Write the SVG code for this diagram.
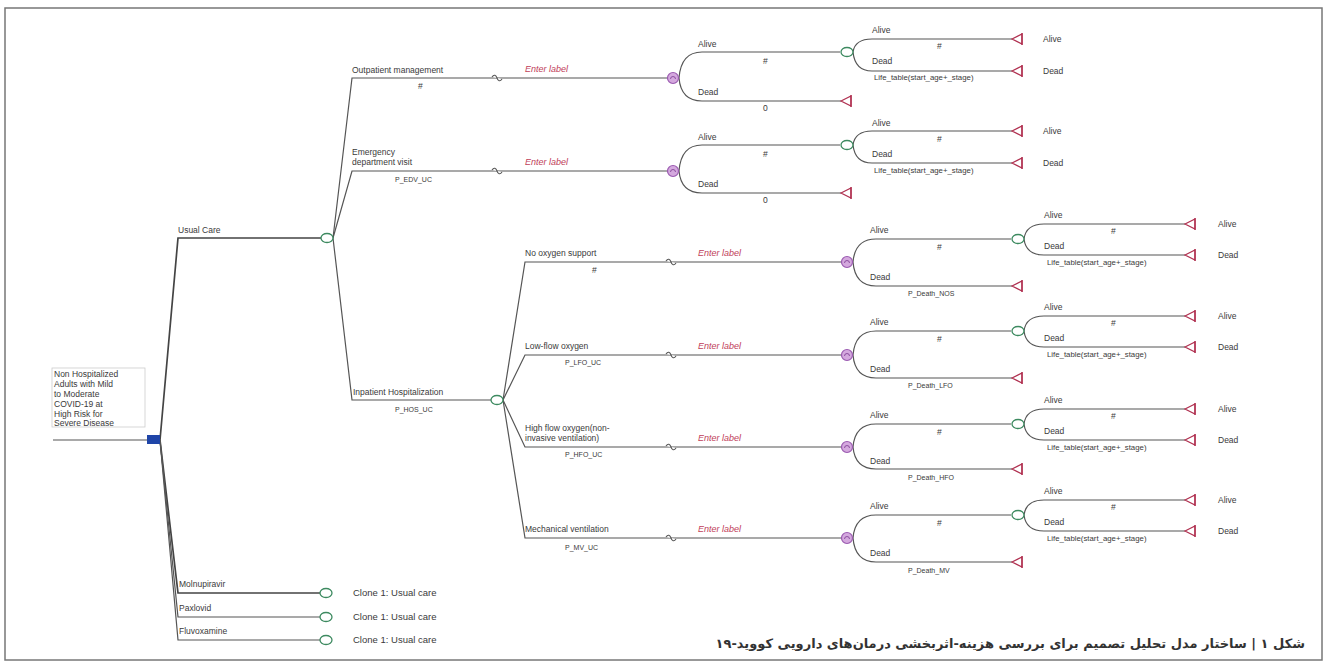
<svg xmlns="http://www.w3.org/2000/svg" width="1327" height="668" viewBox="0 0 1327 668">
<style>
text{font-family:"Liberation Sans",Arial,sans-serif;fill:#3a3a3a;font-size:8.5px}
.sm{font-size:7px}
.lt{font-size:7.8px}
.cl{font-size:9.5px}
.red{fill:#c0405a;font-style:italic;font-size:9px}
.ln{fill:none;stroke:#555;stroke-width:1.2}
.bold{stroke-width:1.7;stroke:#444}
.cap{font-family:"DejaVu Sans",sans-serif;font-weight:bold;font-size:13px;fill:#333}
</style>
<defs>
<g id="chance"><ellipse cx="0" cy="0" rx="6" ry="4.5" fill="#fff" stroke="#3d8a60" stroke-width="1.3"/></g>
<g id="markov"><circle cx="0" cy="0" r="5.5" fill="#d4a8de" stroke="#9a5ab0" stroke-width="1.2"/><path d="M-2.5,1 A2.5,2.5 0 1 1 2.5,1" fill="none" stroke="#7a3a90" stroke-width="0.8"/></g>
<g id="term"><path d="M-6,0 L4,-5 L4,5 Z" fill="#fff" stroke="#b03050" stroke-width="1.2"/><path d="M4,-6 V6" stroke="#b03050" stroke-width="1.4"/></g>
<g id="tilde"><path d="M-5,-1 C-3,-4 -1,-3 0,0 C1,3 3,4 5,1" fill="#fff" stroke="#555" stroke-width="1.1"/></g>
</defs>
<rect x="5" y="8" width="1317" height="652" fill="#fff" stroke="#777" stroke-width="1.5"/>

<g id="connectors">
<path class="ln" d="M53,440 H147"/>
<path class="ln bold" d="M160,440 L178,238 H321"/>
<path class="ln bold" d="M160,440 L178,593 H320"/>
<path class="ln" d="M160,440 L178,617 H320"/>
<path class="ln" d="M160,440 L178,640 H320"/>
<path class="ln" d="M333,238 L352,78 H667"/>
<path class="ln" d="M333,238 L352,171 H667"/>
<path class="ln" d="M333,238 L352,400 H491"/>
<path class="ln" d="M503,400 L525,262 H841"/>
<path class="ln" d="M503,400 L525,355 H841"/>
<path class="ln" d="M503,400 L525,447 H841"/>
<path class="ln" d="M503,400 L525,538 H841"/>
<path class="ln" d="M679,78 Q681,52 702,52 H840"/>
<path class="ln" d="M679,78 Q681,101 702,101 H841"/>
<path class="ln" d="M853,52 Q855,39 872,39 H1012"/>
<path class="ln" d="M853,52 Q855,71 872,71 H1012"/>
<path class="ln" d="M679,171 Q681,145 702,145 H840"/>
<path class="ln" d="M679,171 Q681,193 702,193 H841"/>
<path class="ln" d="M853,145 Q855,131 872,131 H1012"/>
<path class="ln" d="M853,145 Q855,163 872,163 H1012"/>
<path class="ln" d="M853,262 Q855,239 876,239 H1011"/>
<path class="ln" d="M853,262 Q855,286 876,286 H1012"/>
<path class="ln" d="M1024,239 Q1026,224 1044,224 H1185"/>
<path class="ln" d="M1024,239 Q1026,255 1044,255 H1185"/>
<path class="ln" d="M853,355 Q855,331 876,331 H1011"/>
<path class="ln" d="M853,355 Q855,378 876,378 H1012"/>
<path class="ln" d="M1024,331 Q1026,316 1044,316 H1185"/>
<path class="ln" d="M1024,331 Q1026,347 1044,347 H1185"/>
<path class="ln" d="M853,447 Q855,424 876,424 H1011"/>
<path class="ln" d="M853,447 Q855,469 876,469 H1012"/>
<path class="ln" d="M1024,424 Q1026,409 1044,409 H1185"/>
<path class="ln" d="M1024,424 Q1026,440 1044,440 H1185"/>
<path class="ln" d="M853,538 Q855,515 876,515 H1011"/>
<path class="ln" d="M853,538 Q855,562 876,562 H1012"/>
<path class="ln" d="M1024,515 Q1026,500 1044,500 H1185"/>
<path class="ln" d="M1024,515 Q1026,531 1044,531 H1185"/>
<use href="#tilde" x="497" y="78"/>
<use href="#tilde" x="497" y="171"/>
<use href="#tilde" x="671" y="262"/>
<use href="#tilde" x="671" y="355"/>
<use href="#tilde" x="671" y="447"/>
<use href="#tilde" x="671" y="538"/>
</g>

<g id="root">
<rect x="52" y="368" width="93" height="59" fill="#fff" stroke="#ccc" stroke-width="0.8"/>
<text x="54" y="377">Non Hospitalized</text>
<text x="54" y="387">Adults with Mild</text>
<text x="54" y="397">to Moderate</text>
<text x="54" y="407">COVID-19 at</text>
<text x="54" y="417">High Risk for</text>
<text x="54" y="426">Severe Disease</text>
<rect x="147" y="435" width="13" height="9" fill="#1f45a8"/>
</g>

<g id="usual-care">
<text x="178" y="233">Usual Care</text>
<use href="#chance" x="327" y="238"/>
</g>
<g id="molnupiravir">
<text x="179" y="587">Molnupiravir</text>
<use href="#chance" x="326" y="593"/>
<text class="cl" x="353" y="596">Clone 1: Usual care</text>
</g>
<g id="paxlovid">
<text x="179" y="611">Paxlovid</text>
<use href="#chance" x="326" y="617"/>
<text class="cl" x="353" y="620">Clone 1: Usual care</text>
</g>
<g id="fluvoxamine">
<text x="179" y="634">Fluvoxamine</text>
<use href="#chance" x="326" y="640"/>
<text class="cl" x="353" y="643">Clone 1: Usual care</text>
</g>

<g id="outpatient">
<text x="352" y="73">Outpatient management</text>
<text x="418" y="89">#</text>
<text class="red" x="525" y="72">Enter label</text>
<use href="#markov" x="673" y="78"/>
<text x="698" y="47">Alive</text>
<text x="763" y="64">#</text>
<text x="698" y="95">Dead</text>
<text x="763" y="111">0</text>
<use href="#chance" x="847" y="52"/>
<use href="#term" x="847" y="101"/>
<text x="872" y="33">Alive</text>
<text x="937" y="49">#</text>
<text x="872" y="64">Dead</text>
<text class="lt" x="874" y="80">Life_table(start_age+_stage)</text>
<use href="#term" x="1018" y="39"/>
<use href="#term" x="1018" y="71"/>
<text x="1043" y="42">Alive</text>
<text x="1043" y="74">Dead</text>
</g>

<g id="emergency">
<text x="352" y="155">Emergency</text>
<text x="352" y="165">department visit</text>
<text class="sm" x="395" y="182">P_EDV_UC</text>
<text class="red" x="525" y="165">Enter label</text>
<use href="#markov" x="673" y="171"/>
<text x="698" y="140">Alive</text>
<text x="763" y="157">#</text>
<text x="698" y="187">Dead</text>
<text x="763" y="203">0</text>
<use href="#chance" x="847" y="145"/>
<use href="#term" x="847" y="193"/>
<text x="872" y="126">Alive</text>
<text x="937" y="142">#</text>
<text x="872" y="157">Dead</text>
<text class="lt" x="874" y="173">Life_table(start_age+_stage)</text>
<use href="#term" x="1018" y="131"/>
<use href="#term" x="1018" y="163"/>
<text x="1043" y="134">Alive</text>
<text x="1043" y="166">Dead</text>
</g>

<g id="inpatient">
<text x="353" y="395">Inpatient Hospitalization</text>
<text class="sm" x="395" y="412">P_HOS_UC</text>
<use href="#chance" x="497" y="400"/>
</g>

<g id="no-oxygen">
<text x="525" y="256">No oxygen support</text>
<text x="592" y="273">#</text>
<text class="red" x="698" y="256">Enter label</text>
<use href="#markov" x="847" y="262"/>
<text x="870" y="233">Alive</text>
<text x="937" y="250">#</text>
<text x="870" y="280">Dead</text>
<text class="sm" x="908" y="296">P_Death_NOS</text>
<use href="#chance" x="1018" y="239"/>
<use href="#term" x="1018" y="286"/>
<text x="1044" y="218">Alive</text>
<text x="1111" y="234">#</text>
<text x="1044" y="249">Dead</text>
<text class="lt" x="1047" y="265">Life_table(start_age+_stage)</text>
<use href="#term" x="1191" y="224"/>
<use href="#term" x="1191" y="255"/>
<text x="1218" y="227">Alive</text>
<text x="1218" y="258">Dead</text>
</g>

<g id="low-flow">
<text x="525" y="349">Low-flow oxygen</text>
<text class="sm" x="565" y="365">P_LFO_UC</text>
<text class="red" x="698" y="349">Enter label</text>
<use href="#markov" x="847" y="355"/>
<text x="870" y="325">Alive</text>
<text x="937" y="342">#</text>
<text x="870" y="372">Dead</text>
<text class="sm" x="908" y="388">P_Death_LFO</text>
<use href="#chance" x="1018" y="331"/>
<use href="#term" x="1018" y="378"/>
<text x="1044" y="310">Alive</text>
<text x="1111" y="326">#</text>
<text x="1044" y="341">Dead</text>
<text class="lt" x="1047" y="357">Life_table(start_age+_stage)</text>
<use href="#term" x="1191" y="316"/>
<use href="#term" x="1191" y="347"/>
<text x="1218" y="319">Alive</text>
<text x="1218" y="350">Dead</text>
</g>

<g id="high-flow">
<text x="525" y="431">High flow oxygen(non-</text>
<text x="525" y="441">invasive ventilation)</text>
<text class="sm" x="565" y="457">P_HFO_UC</text>
<text class="red" x="698" y="441">Enter label</text>
<use href="#markov" x="847" y="447"/>
<text x="870" y="418">Alive</text>
<text x="937" y="435">#</text>
<text x="870" y="464">Dead</text>
<text class="sm" x="908" y="480">P_Death_HFO</text>
<use href="#chance" x="1018" y="424"/>
<use href="#term" x="1018" y="469"/>
<text x="1044" y="403">Alive</text>
<text x="1111" y="419">#</text>
<text x="1044" y="434">Dead</text>
<text class="lt" x="1047" y="450">Life_table(start_age+_stage)</text>
<use href="#term" x="1191" y="409"/>
<use href="#term" x="1191" y="440"/>
<text x="1218" y="412">Alive</text>
<text x="1218" y="443">Dead</text>
</g>

<g id="mechanical">
<text x="525" y="532">Mechanical ventilation</text>
<text class="sm" x="565" y="550">P_MV_UC</text>
<text class="red" x="698" y="532">Enter label</text>
<use href="#markov" x="847" y="538"/>
<text x="870" y="509">Alive</text>
<text x="937" y="526">#</text>
<text x="870" y="556">Dead</text>
<text class="sm" x="908" y="573">P_Death_MV</text>
<use href="#chance" x="1018" y="515"/>
<use href="#term" x="1018" y="562"/>
<text x="1044" y="494">Alive</text>
<text x="1111" y="510">#</text>
<text x="1044" y="525">Dead</text>
<text class="lt" x="1047" y="541">Life_table(start_age+_stage)</text>
<use href="#term" x="1191" y="500"/>
<use href="#term" x="1191" y="531"/>
<text x="1218" y="503">Alive</text>
<text x="1218" y="534">Dead</text>
</g>

<text class="cap" x="1305" y="648" direction="rtl" text-anchor="start">شکل ۱ | ساختار مدل تحلیل تصمیم برای بررسی هزینه-اثربخشی درمان‌های دارویی کووید-۱۹</text>
</svg>
